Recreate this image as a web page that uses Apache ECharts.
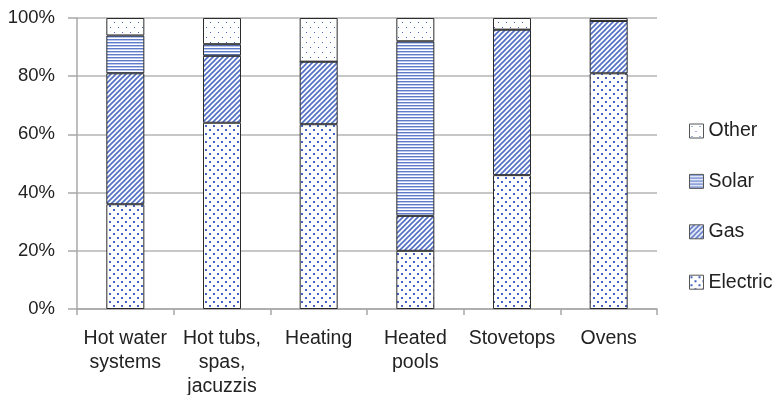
<!DOCTYPE html>
<html>
<head>
<meta charset="utf-8">
<script src="https://cdn.jsdelivr.net/npm/echarts@6/dist/echarts.min.js"></script>
<style>
  html, body { margin: 0; padding: 0; background: #fff; }
  #chart { width: 775px; height: 395px; }
</style>
</head>
<body>
<div id="chart"></div>
<script>
// Share of each energy source by appliance type (percent)
const categories = ['Hot water\nsystems', 'Hot tubs,\nspas,\njacuzzis', 'Heating', 'Heated\npools', 'Stovetops', 'Ovens'];
const electric = [36, 64, 63.5, 20, 46, 81];
const gas      = [45, 23, 21.5, 12, 50, 18];
const solar    = [13, 4, 0, 60, 0, 0];
const other    = [6, 9, 15, 8, 4, 1];
const yTicks   = [0, 20, 40, 60, 80, 100];

// Small repeating canvas tiles used as hatch fills
function tile(w, h, draw) {
  const c = document.createElement('canvas');
  c.width = w; c.height = h;
  const ctx = c.getContext('2d');
  ctx.fillStyle = '#ffffff';
  ctx.fillRect(0, 0, w, h);
  draw(ctx, w, h);
  return { image: c, repeat: 'repeat' };
}

const BLUE = '#4264c0';

const electricFill = tile(8, 8, (ctx) => {
  ctx.fillStyle = BLUE;
  ctx.fillRect(1, 1, 2, 2);
  ctx.fillRect(5, 5, 2, 2);
});

const gasFill = tile(5, 5, (ctx, w, h) => {
  ctx.strokeStyle = '#5470c4';
  ctx.lineWidth = 1.7;
  for (let k = -1; k <= 1; k++) {
    ctx.beginPath();
    ctx.moveTo(k * w - 1, h + 1);
    ctx.lineTo(k * w + w + 1, -1);
    ctx.stroke();
  }
});

const solarFill = tile(4, 3, (ctx, w) => {
  ctx.fillStyle = '#5f7bc9';
  ctx.fillRect(0, 0, w, 1);
  ctx.fillStyle = '#bcc8eb';
  ctx.fillRect(0, 1, w, 1);
});

const otherFill = tile(8, 10, (ctx) => {
  ctx.fillStyle = BLUE;
  ctx.fillRect(2, 2, 1, 1);
  ctx.fillRect(6, 7, 1, 1);
});

const chart = echarts.init(document.getElementById('chart'), null, { renderer: 'canvas' });

const FONT = 'Liberation Sans, Arial, Helvetica, sans-serif';
const barStyle = (fill) => ({ color: fill, borderColor: '#2b2b2b', borderWidth: 1 });

function makeSeries(name, values, fill) {
  return {
    name: name,
    type: 'bar',
    stack: 'total',
    barWidth: 38,
    data: values,
    itemStyle: barStyle(fill),
    emphasis: { disabled: true }
  };
}

chart.setOption({
  animation: false,
  backgroundColor: '#ffffff',
  grid: { left: 77, right: 118, top: 18, bottom: 86, containLabel: false, outerBoundsMode: 'none' },
  legend: {
    orient: 'vertical',
    left: 684,
    top: 116,
    icon: 'rect',
    itemWidth: 14,
    itemHeight: 14,
    itemGap: 30.4,
    data: ['Other', 'Solar', 'Gas', 'Electric'],
    itemStyle: { borderColor: '#555', borderWidth: 1 },
    textStyle: { fontFamily: FONT, fontSize: 19.5, color: '#222', lineHeight: 20 }
  },
  xAxis: {
    type: 'category',
    data: categories,
    axisLine: { lineStyle: { color: '#a8a8a8', width: 1.5 } },
    axisTick: { show: true, length: 6, lineStyle: { color: '#a8a8a8', width: 1.5 } },
    axisLabel: {
      interval: 0,
      margin: 18,
      fontFamily: FONT,
      fontSize: 19.5,
      lineHeight: 24,
      color: '#222',
      align: 'center'
    }
  },
  yAxis: {
    type: 'value',
    min: yTicks[0],
    max: yTicks[yTicks.length - 1],
    interval: yTicks[1] - yTicks[0],
    axisLine: { show: true, lineStyle: { color: '#a8a8a8', width: 1.5 } },
    axisTick: { show: true, length: 9, lineStyle: { color: '#a8a8a8', width: 1.5 } },
    splitLine: { show: true, lineStyle: { color: '#b4b4b4', width: 1.5 } },
    axisLabel: {
      margin: 22,
      fontFamily: FONT,
      fontSize: 18.5,
      color: '#222',
      formatter: '{value}%'
    }
  },
  series: [
    makeSeries('Electric', electric, electricFill),
    makeSeries('Gas', gas, gasFill),
    makeSeries('Solar', solar, solarFill),
    makeSeries('Other', other, otherFill)
  ]
});
</script>
</body>
</html>
